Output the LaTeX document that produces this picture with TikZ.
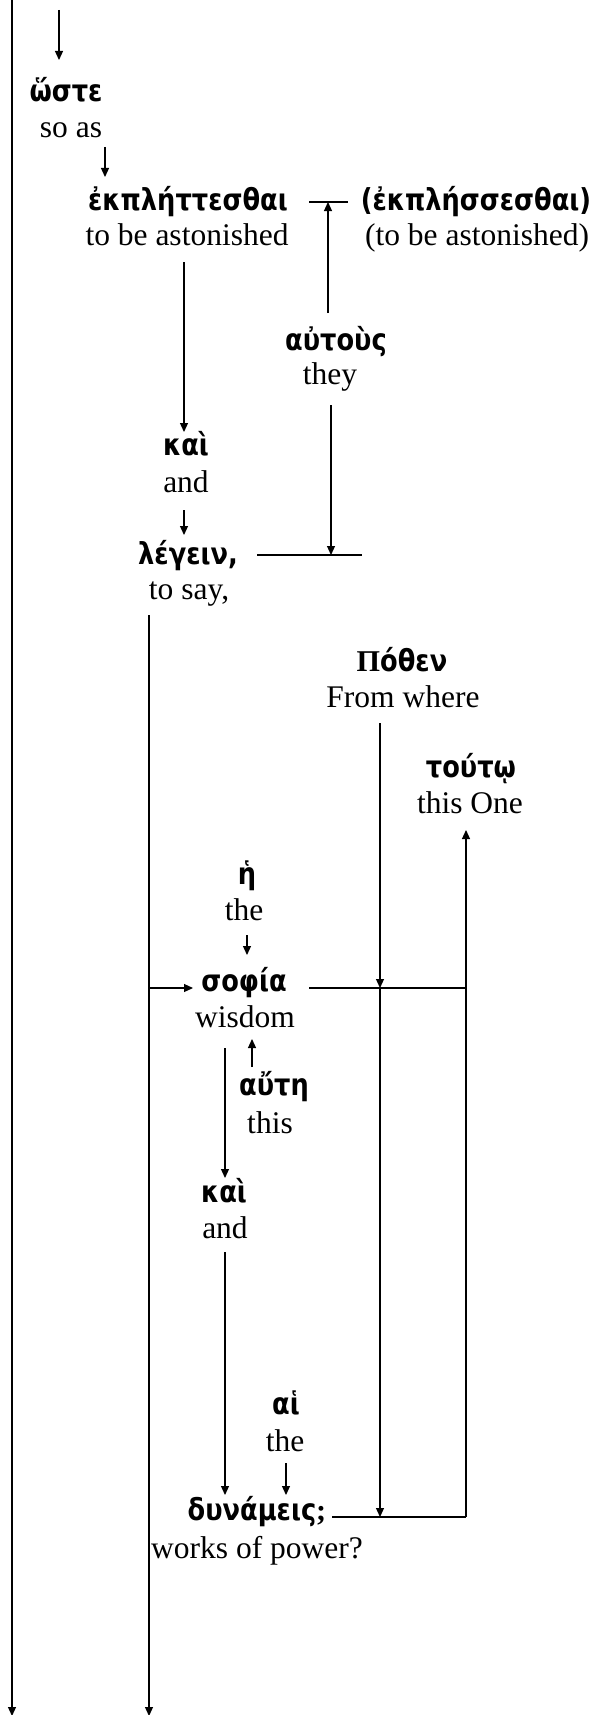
\documentclass[tikz,border=0pt]{standalone}
\usepackage{fontspec}
\setmainfont{Liberation Serif}
\newfontfamily\gk{DejaVu Sans}[FakeStretch=0.85]
\usetikzlibrary{arrows.meta}
\begin{document}
\begin{tikzpicture}[x=1pt,y=-1pt,
  en/.style={font=\fontsize{31.5}{34}\selectfont, inner sep=0pt, anchor=base},
  gr/.style={font=\fontsize{30.2}{33}\selectfont\gk\bfseries, inner sep=0pt, anchor=base},
  conn/.style={line width=1.2pt},
  arr/.style={conn,-{Triangle[length=9pt,width=8pt]}}]
\useasboundingbox (0,0) rectangle (597,1715);
% words
\node[gr] (g1) at (66,102) {ὥστε};
\node[en] (e1) at (71,138) {so as};
\node[gr] (g2) at (188,211) {ἐκπλήττεσθαι};
\node[en] (e2) at (187,245) {to be astonished};
\node[gr] (g3) at (476,211) {({ἐκπλήσσεσθαι})};
\node[en] (e3) at (477,245) {(to be astonished)};
\node[gr] (g4) at (336,350) {αὐτοὺς};
\node[en] (e4) at (330,384) {they};
\node[gr] (g5) at (186,455) {καὶ};
\node[en] (e5) at (186,492) {and};
\node[gr] (g6) at (188,564) {λέγειν,};
\node[en] (e6) at (189,599) {to say,};
\node[gr] (g7) at (402,671) {{\rmfamily Π}όθεν};
\node[en] (e7) at (403,707) {From where};
\node[gr] (g8) at (471,777) {τούτῳ};
\node[en] (e8) at (470,813) {this One};
\node[gr] (g9) at (247,884) {ἡ};
\node[en] (e9) at (244,920) {the};
\node[gr] (g10) at (244,991) {σοφία};
\node[en] (e10) at (245,1027) {wisdom};
\node[gr] (g11) at (274,1095) {αὔτη};
\node[en] (e11) at (270,1133) {this};
\node[gr] (g12) at (224,1202) {καὶ};
\node[en] (e12) at (225,1238) {and};
\node[gr] (g13) at (286,1414) {αἱ};
\node[en] (e13) at (285,1451) {the};
\node[gr] (g14) at (257,1520) {δυνάμεις{\rmfamily ;}};
\node[en] (e14) at (257,1558) {works of power?};
% connector end points
\coordinate (L0) at (12,0); \coordinate (L1) at (12,1716);
\coordinate (a0) at (59,10); \coordinate (a1) at (59,60);
\coordinate (b0) at (105,147); \coordinate (b1) at (105,177);
\coordinate (c0) at (309,202); \coordinate (c1) at (348,202);
\coordinate (cm) at (328,202); \coordinate (d0) at (328,313);
\coordinate (f0) at (184,262); \coordinate (f1) at (184,432);
\coordinate (h0) at (184,510); \coordinate (h1) at (184,535);
\coordinate (k0) at (331,405); \coordinate (k1) at (331,555);
\coordinate (m0) at (257,555); \coordinate (m1) at (362,555);
\coordinate (S0) at (149,615); \coordinate (S1) at (149,1716);
\coordinate (sj) at (149,988); \coordinate (sa) at (193,988);
\coordinate (n0) at (309,988); \coordinate (n1) at (466,988);
\coordinate (p0) at (380,723); \coordinate (p1) at (380,988); \coordinate (p2) at (380,1517);
\coordinate (r0) at (466,1517); \coordinate (r1) at (466,830);
\coordinate (q0) at (332,1517);
\coordinate (t0) at (247,935); \coordinate (t1) at (247,955);
\coordinate (u0) at (252,1067); \coordinate (u1) at (252,1039);
\coordinate (v0) at (225,1048); \coordinate (v1) at (225,1178);
\coordinate (w0) at (225,1252); \coordinate (w1) at (225,1495);
\coordinate (z0) at (286,1463); \coordinate (z1) at (286,1495);
% connectors
\draw[arr] (L0) -- (L1);
\draw[arr] (a0) -- (a1);
\draw[arr] (b0) -- (b1);
\draw[conn] (c0) -- (c1);
\draw[arr] (d0) -- (cm);
\draw[arr] (f0) -- (f1);
\draw[arr] (h0) -- (h1);
\draw[arr] (k0) -- (k1);
\draw[conn] (m0) -- (m1);
\draw[arr] (S0) -- (S1);
\draw[arr] (sj) -- (sa);
\draw[conn] (n0) -- (n1);
\draw[arr] (p0) -- (p1);
\draw[arr] (p1) -- (p2);
\draw[conn] (q0) -- (r0);
\draw[arr] (r0) -- (r1);
\draw[arr] (t0) -- (t1);
\draw[arr] (u0) -- (u1);
\draw[arr] (v0) -- (v1);
\draw[arr] (w0) -- (w1);
\draw[arr] (z0) -- (z1);
\end{tikzpicture}
\end{document}
